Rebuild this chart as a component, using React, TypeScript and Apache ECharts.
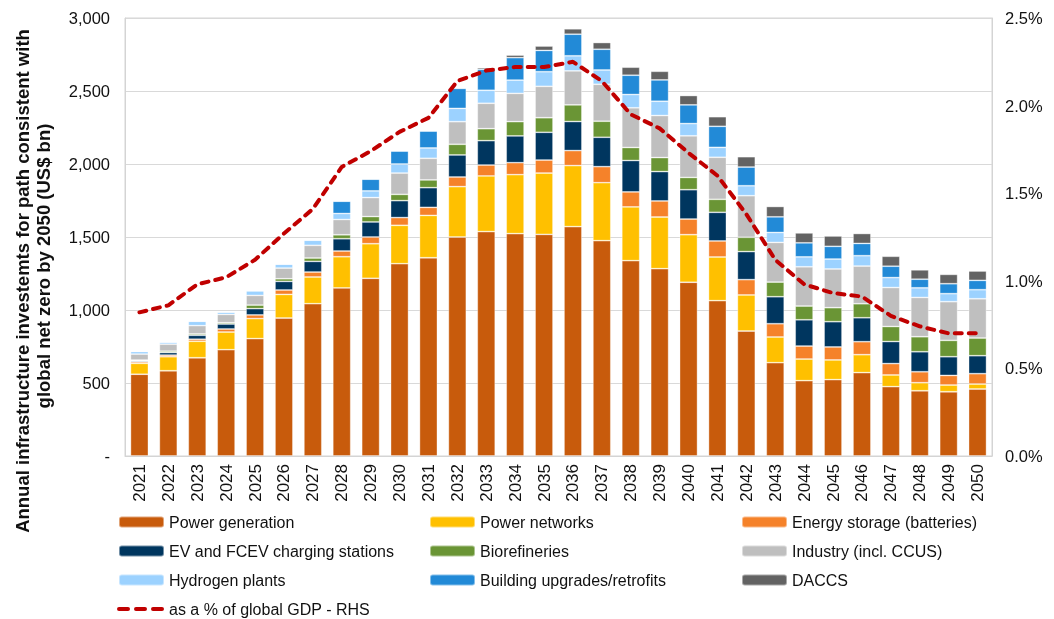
import React, { useEffect, useRef } from "react";
import * as echarts from "echarts";

const years = ["2021","2022","2023","2024","2025","2026","2027","2028","2029","2030","2031","2032","2033","2034","2035","2036","2037","2038","2039","2040","2041","2042","2043","2044","2045","2046","2047","2048","2049","2050"];

const powerGeneration = [560, 584, 673, 728, 804, 945, 1043, 1151, 1217, 1317, 1358, 1500, 1537, 1523, 1518, 1571, 1475, 1338, 1283, 1190, 1064, 856, 639, 516, 523, 571, 475, 447, 440, 459];
const powerNetworks = [75, 96, 113, 121, 137, 162, 183, 214, 237, 263, 290, 345, 381, 404, 420, 418, 397, 368, 354, 326, 299, 247, 176, 148, 135, 123, 80, 55, 46, 34];
const energyStorage = [10, 11, 14, 21, 25, 30, 34, 39, 46, 53, 55, 66, 75, 82, 89, 103, 110, 103, 110, 107, 110, 105, 91, 89, 89, 89, 78, 75, 66, 71];
const evCharging = [7, 18, 27, 34, 43, 59, 73, 84, 103, 116, 135, 151, 167, 183, 190, 199, 201, 215, 201, 201, 196, 192, 185, 180, 173, 164, 151, 137, 128, 123];
const biorefineries = [5, 9, 9, 9, 25, 18, 23, 27, 37, 43, 53, 73, 82, 98, 100, 114, 110, 89, 96, 84, 89, 98, 100, 94, 96, 96, 103, 103, 112, 121];
const industry = [41, 48, 57, 57, 66, 73, 87, 105, 130, 146, 148, 155, 174, 194, 215, 233, 253, 272, 288, 285, 288, 285, 272, 269, 265, 258, 267, 269, 265, 269];
const hydrogen = [18, 14, 30, 16, 32, 27, 35, 41, 46, 62, 71, 91, 89, 91, 100, 103, 98, 91, 98, 84, 68, 68, 68, 68, 68, 71, 68, 66, 55, 62];
const buildings = [0, 0, 0, 0, 0, 0, 2, 84, 80, 89, 116, 137, 144, 153, 146, 148, 142, 132, 146, 128, 144, 128, 107, 96, 87, 84, 78, 59, 68, 64];
const daccs = [0, 0, 0, 0, 0, 0, 0, 0, 0, 0, 0, 5, 11, 18, 30, 37, 46, 55, 59, 64, 66, 71, 71, 68, 71, 68, 68, 64, 64, 64];
const gdpShare = [0.82, 0.86, 0.98, 1.02, 1.12, 1.27, 1.41, 1.65, 1.74, 1.85, 1.93, 2.14, 2.20, 2.22, 2.22, 2.25, 2.14, 1.95, 1.87, 1.73, 1.60, 1.38, 1.12, 0.98, 0.93, 0.91, 0.80, 0.74, 0.70, 0.70];

const leftTicks = ["-", "500", "1,000", "1,500", "2,000", "2,500", "3,000"];
const titleLines = ["Annual infrastructure investemts for path consistent with", "global net zero by 2050 (US$ bn)"];

const barSeries = [
  { name: "Power generation", data: powerGeneration, color: "#C85B0C" },
  { name: "Power networks", data: powerNetworks, color: "#FFC000" },
  { name: "Energy storage (batteries)", data: energyStorage, color: "#F5822A" },
  { name: "EV and FCEV charging stations", data: evCharging, color: "#00365F" },
  { name: "Biorefineries", data: biorefineries, color: "#6A9535" },
  { name: "Industry (incl. CCUS)", data: industry, color: "#BFBFBF" },
  { name: "Hydrogen plants", data: hydrogen, color: "#9CD2FF" },
  { name: "Building upgrades/retrofits", data: buildings, color: "#228AD7" },
  { name: "DACCS", data: daccs, color: "#636363" },
];
const lineName = "as a % of global GDP - RHS";

const FONT = "'Liberation Sans', Arial, sans-serif";

export default function App() {
  const ref = useRef<HTMLDivElement>(null);
  useEffect(() => {
    if (!ref.current) return;
    const chart = echarts.init(ref.current, null, { renderer: "svg" });
    const legendText = { fontSize: 16, color: "#111", fontFamily: FONT };
    const legendCommon = {
      orient: "vertical",
      itemWidth: 45,
      itemHeight: 11,
      itemGap: 13,
      padding: 0,
      textStyle: legendText,
      selectedMode: false,
      top: 514,
    };
    chart.setOption({
      animation: false,
      textStyle: { fontFamily: FONT },
      grid: { left: 125, right: 62, top: 18, height: 438, show: true, borderColor: "#D4D4D4", borderWidth: 1 },
      legend: [
        {
          ...legendCommon,
          left: 117,
          data: [
            "Power generation",
            "EV and FCEV charging stations",
            "Hydrogen plants",
            {
              name: lineName,
              itemStyle: { color: "rgba(0,0,0,0)", borderColor: "rgba(0,0,0,0)", borderWidth: 0 },
              lineStyle: { color: "#C00000", width: 4, type: [9, 8], cap: "round" },
            },
          ],
        },
        { ...legendCommon, left: 429, data: ["Power networks", "Biorefineries", "Building upgrades/retrofits"] },
        { ...legendCommon, left: 741, data: ["Energy storage (batteries)", "Industry (incl. CCUS)", "DACCS"] },
      ],
      graphic: [
        {
          type: "text",
          x: 22,
          y: 281,
          rotation: Math.PI / 2,
          style: {
            text: titleLines[0],
            font: `bold 18.5px ${FONT}`,
            fill: "#111",
            align: "center",
            verticalAlign: "middle",
          },
        },
        {
          type: "text",
          x: 43,
          y: 266,
          rotation: Math.PI / 2,
          style: {
            text: titleLines[1],
            font: `bold 18.5px ${FONT}`,
            fill: "#111",
            align: "center",
            verticalAlign: "middle",
          },
        },
      ],
      xAxis: {
        type: "category",
        data: years,
        boundaryGap: true,
        axisLine: { lineStyle: { color: "#D4D4D4", width: 1 } },
        axisTick: { show: false },
        axisLabel: { rotate: 90, fontSize: 17, color: "#111", margin: 8, interval: 0, fontFamily: FONT },
        splitLine: { show: false },
      },
      yAxis: [
        {
          type: "value",
          min: 0,
          max: 3000,
          interval: 500,
          axisLine: { show: true, lineStyle: { color: "#D4D4D4" } },
          axisTick: { show: false },
          axisLabel: {
            fontSize: 16.5,
            color: "#111",
            margin: 15,
            fontFamily: FONT,
            formatter: (v: number) => leftTicks[Math.round(v / 500)] ?? "",
          },
          splitLine: { show: true, lineStyle: { color: "#D9D9D9", width: 1 } },
        },
        {
          type: "value",
          min: 0,
          max: 2.5,
          interval: 0.5,
          axisLine: { show: true, lineStyle: { color: "#D4D4D4" } },
          axisTick: { show: false },
          axisLabel: {
            fontSize: 16.5,
            color: "#111",
            margin: 13,
            fontFamily: FONT,
            formatter: (v: number) => `${v.toFixed(1)}%`,
          },
          splitLine: { show: false },
        },
      ],
      series: [
        ...barSeries.map((s) => ({
          name: s.name,
          type: "bar",
          stack: "total",
          data: s.data,
          barWidth: "62%",
          itemStyle: { color: s.color, borderColor: "rgba(255,255,255,0.45)", borderWidth: 0.8 },
        })),
        {
          name: lineName,
          type: "line",
          yAxisIndex: 1,
          data: gdpShare,
          symbol: "none",
          z: 10,
          itemStyle: { color: "#C00000" },
          lineStyle: { color: "#C00000", width: 4, type: [7, 7], cap: "round" },
        },
      ],
    });
    return () => chart.dispose();
  }, []);
  return <div ref={ref} style={{ position: "fixed", left: 0, top: 0, width: 1054, height: 619 }} />;
}
